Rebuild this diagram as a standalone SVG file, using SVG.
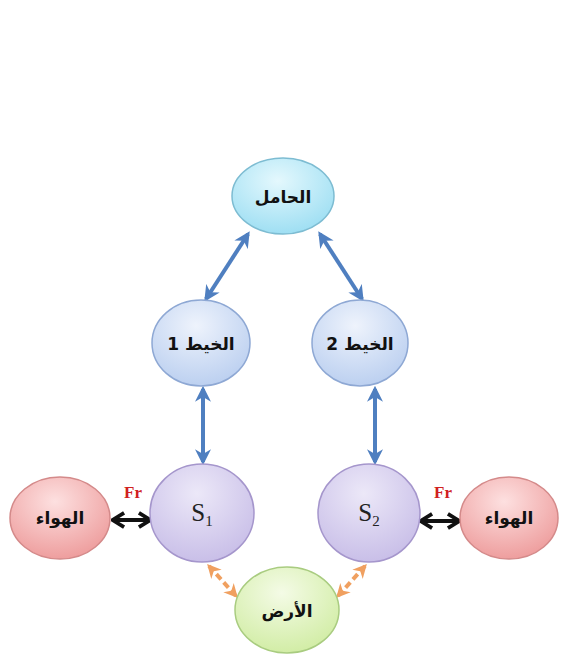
<svg xmlns="http://www.w3.org/2000/svg" width="561" height="663" viewBox="0 0 561 663">
<defs>
<radialGradient id="gCyan" cx="45%" cy="30%" r="70%"><stop offset="0" stop-color="#e4f8fd"/><stop offset="1" stop-color="#9fdff3"/></radialGradient>
<radialGradient id="gBlue" cx="45%" cy="30%" r="70%"><stop offset="0" stop-color="#eef3fc"/><stop offset="1" stop-color="#bcd0f0"/></radialGradient>
<radialGradient id="gLav" cx="45%" cy="30%" r="70%"><stop offset="0" stop-color="#ece8f8"/><stop offset="1" stop-color="#c9bfe8"/></radialGradient>
<radialGradient id="gPink" cx="45%" cy="30%" r="70%"><stop offset="0" stop-color="#fde0e0"/><stop offset="1" stop-color="#ee9e9e"/></radialGradient>
<radialGradient id="gGreen" cx="45%" cy="30%" r="70%"><stop offset="0" stop-color="#f4fbe6"/><stop offset="1" stop-color="#d2eda6"/></radialGradient>
<marker id="ab" viewBox="0 0 10 10" refX="8" refY="5" markerWidth="4" markerHeight="4" orient="auto-start-reverse"><path d="M0,0 L10,5 L0,10 L3,5 z" fill="#4f7fc0"/></marker>
<marker id="ak" viewBox="0 0 10 10" refX="8" refY="5" markerWidth="3.6" markerHeight="4.4" orient="auto-start-reverse"><path d="M1,0 L9,5 L1,10" fill="none" stroke="#111" stroke-width="2.6"/></marker>
<marker id="ao" viewBox="0 0 10 10" refX="8" refY="5" markerWidth="3.5" markerHeight="3.5" orient="auto-start-reverse"><path d="M0,0 L10,5 L0,10 L3,5 z" fill="#f0a060"/></marker>
</defs>
<style>
.ar{font-family:"DejaVu Sans",sans-serif;font-weight:bold;font-size:17px;fill:#111;text-anchor:middle}
.s{font-family:"Liberation Serif",serif;font-size:25px;fill:#222;text-anchor:middle}
.fr{font-family:"Liberation Serif",serif;font-weight:bold;font-size:17px;fill:#d02020;text-anchor:middle}
.blue{stroke:#4f7fc0;stroke-width:4;fill:none}
.blk{stroke:#111;stroke-width:4;fill:none}
.org{stroke:#f0a060;stroke-width:4;fill:none;stroke-dasharray:7 4}
</style>
<g id="connectors">
<line class="blue" x1="248" y1="234" x2="206" y2="299" marker-start="url(#ab)" marker-end="url(#ab)"/>
<line class="blue" x1="320" y1="234" x2="362" y2="299" marker-start="url(#ab)" marker-end="url(#ab)"/>
<line class="blue" x1="203" y1="389" x2="203" y2="462" marker-start="url(#ab)" marker-end="url(#ab)"/>
<line class="blue" x1="375" y1="389" x2="375" y2="462" marker-start="url(#ab)" marker-end="url(#ab)"/>
<line class="blk" x1="114" y1="520" x2="149" y2="520" marker-start="url(#ak)" marker-end="url(#ak)"/>
<line class="blk" x1="422" y1="521" x2="458" y2="521" marker-start="url(#ak)" marker-end="url(#ak)"/>
<line class="org" x1="209" y1="566" x2="236" y2="596" marker-start="url(#ao)" marker-end="url(#ao)"/>
<line class="org" x1="365" y1="566" x2="338" y2="596" marker-start="url(#ao)" marker-end="url(#ao)"/>
<text class="fr" x="133" y="498">Fr</text>
<text class="fr" x="443" y="498">Fr</text>
</g>
<g id="carrier"><ellipse cx="283" cy="196" rx="51" ry="38" fill="url(#gCyan)" stroke="#7dbcd2" stroke-width="1.5"/><text class="ar" x="283" y="203">الحامل</text></g>
<g id="thread1"><ellipse cx="201" cy="343" rx="49" ry="43" fill="url(#gBlue)" stroke="#8ea8d4" stroke-width="1.5"/><text class="ar" x="201" y="350">الخيط 1</text></g>
<g id="thread2"><ellipse cx="360" cy="343" rx="48" ry="43" fill="url(#gBlue)" stroke="#8ea8d4" stroke-width="1.5"/><text class="ar" x="360" y="350">الخيط 2</text></g>
<g id="s1"><ellipse cx="202" cy="513" rx="52" ry="49" fill="url(#gLav)" stroke="#a596cc" stroke-width="1.5"/><text class="s" x="202" y="521">S<tspan font-size="15" dy="5">1</tspan></text></g>
<g id="s2"><ellipse cx="369" cy="513" rx="51" ry="49" fill="url(#gLav)" stroke="#a596cc" stroke-width="1.5"/><text class="s" x="369" y="521">S<tspan font-size="15" dy="5">2</tspan></text></g>
<g id="air1"><ellipse cx="60" cy="518" rx="50" ry="41" fill="url(#gPink)" stroke="#d48a8a" stroke-width="1.5"/><text class="ar" x="60" y="524" font-size="14">الهواء</text></g>
<g id="air2"><ellipse cx="509" cy="518" rx="49" ry="41" fill="url(#gPink)" stroke="#d48a8a" stroke-width="1.5"/><text class="ar" x="509" y="524" font-size="14">الهواء</text></g>
<g id="ground"><ellipse cx="287" cy="610" rx="52" ry="43" fill="url(#gGreen)" stroke="#a9cc80" stroke-width="1.5"/><text class="ar" x="287" y="617">الأرض</text></g>
</svg>
